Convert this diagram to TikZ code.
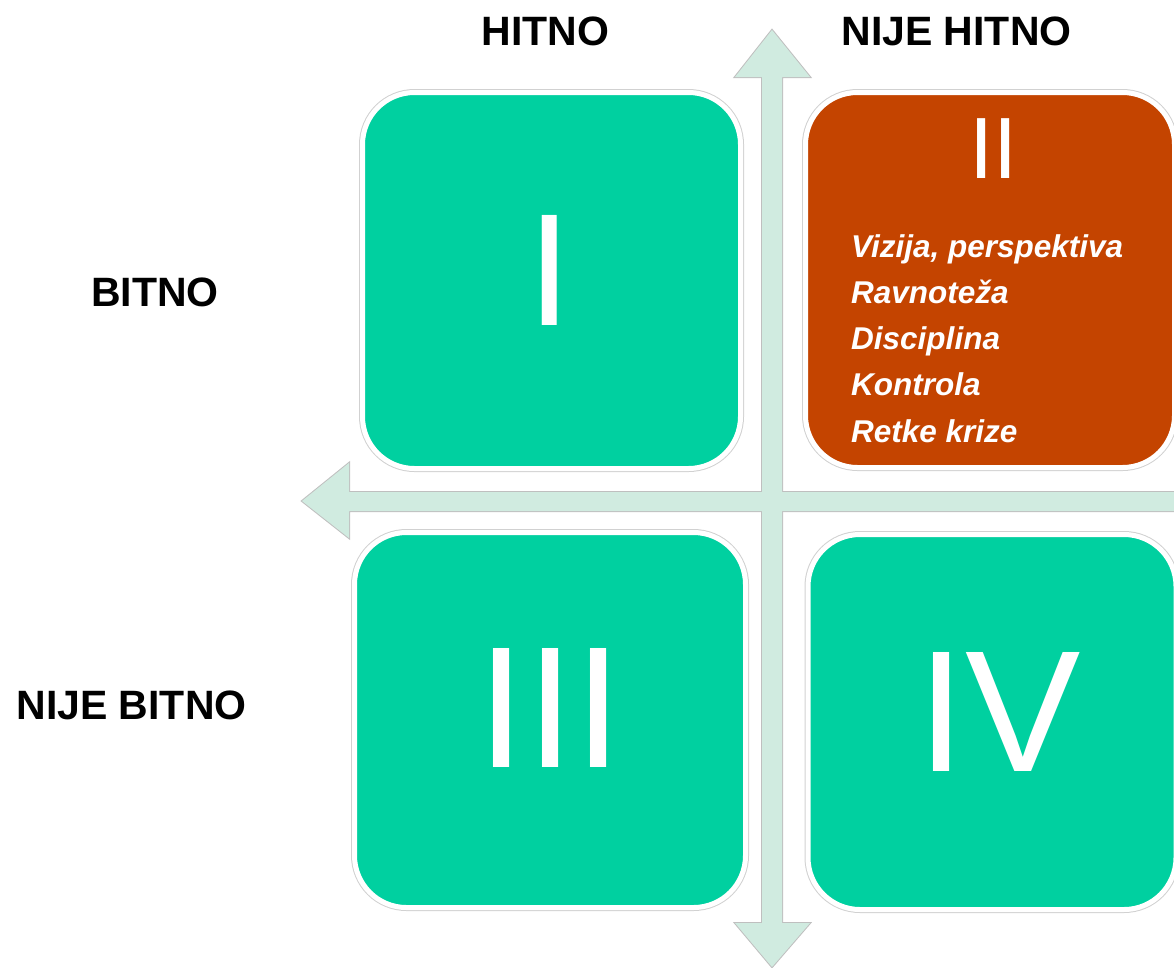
\documentclass[tikz,border=0pt]{standalone}
\usepackage{fontspec}
\setmainfont{Liberation Sans}

\definecolor{tirkiz}{HTML}{00D0A0}
\definecolor{cigla}{HTML}{C44400}
\definecolor{osa}{HTML}{D0EBE0}

\begin{document}
\begin{tikzpicture}[x=1pt,y=-1pt,
  kvadrant/.style={rounded corners=52pt, inner sep=0pt, draw=white, line width=5pt,
    preaction={draw=black!18, line width=7pt}},
  naslov/.style={inner sep=0pt, font=\fontsize{41}{41}\selectfont\bfseries},
  broj/.style={inner sep=0pt, text=white},
  stavka/.style={anchor=base west, inner sep=0pt, text=white,
    font=\fontsize{31.5}{31.5}\selectfont\bfseries\itshape}]

  \clip (0,0) rectangle (1174,967);

  % ose
  \path[save path=\vosa] (772,30) -- (810,77) -- (782,77) -- (782,923) -- (810,923)
    -- (772,967) -- (735,923) -- (762,923) -- (762,77) -- (735,77) -- cycle;
  \path[save path=\hosa] (302,501) -- (349,463) -- (349,492) -- (1190,492)
    -- (1190,511) -- (349,511) -- (349,538) -- cycle;
  \path[draw=black!25, line width=2pt, use path=\vosa];
  \path[draw=black!25, line width=2pt, use path=\hosa];
  \path[fill=osa, use path=\vosa];
  \path[fill=osa, use path=\hosa];

  \node[naslov] (hitno) at (545.5,31) {HITNO};
  \node[naslov] (nijehitno) at (956.5,31) {NIJE HITNO};
  \node[naslov] (bitno) at (155,292) {BITNO};
  \node[naslov] (nijebitno) at (131.5,705) {NIJE BITNO};

  \node[kvadrant, fill=tirkiz, minimum width=378pt, minimum height=376pt] (q1) at (551.5,280.5) {};
  \node[kvadrant, fill=cigla, minimum width=369pt, minimum height=375pt] (q2) at (990,280) {};
  \node[kvadrant, fill=tirkiz, minimum width=391pt, minimum height=375pt] (q3) at (550,720) {};
  \node[kvadrant, fill=tirkiz, minimum width=368pt, minimum height=375pt] (q4) at (992,722) {};

  \node[broj, font=\fontsize{160}{160}\selectfont] (n1) at (549.5,270.5) {I};
  \node[broj, font=\fontsize{87}{87}\selectfont] (n2) at (993.5,149) {II};
  \node[broj, font=\fontsize{173}{173}\selectfont] (n3) at (550,708) {III};
  \node[broj, font=\fontsize{173}{173}\selectfont] (n4) at (999,712) {IV};

  \node[stavka] (s1) at (851,257) {Vizija, perspektiva};
  \node[stavka] (s2) at (851,303) {Ravnoteža};
  \node[stavka] (s3) at (851,349) {Disciplina};
  \node[stavka] (s4) at (851,395) {Kontrola};
  \node[stavka] (s5) at (851,442) {Retke krize};
%  \node[stavka] (s6) at (851,488) {};

\end{tikzpicture}
\end{document}
